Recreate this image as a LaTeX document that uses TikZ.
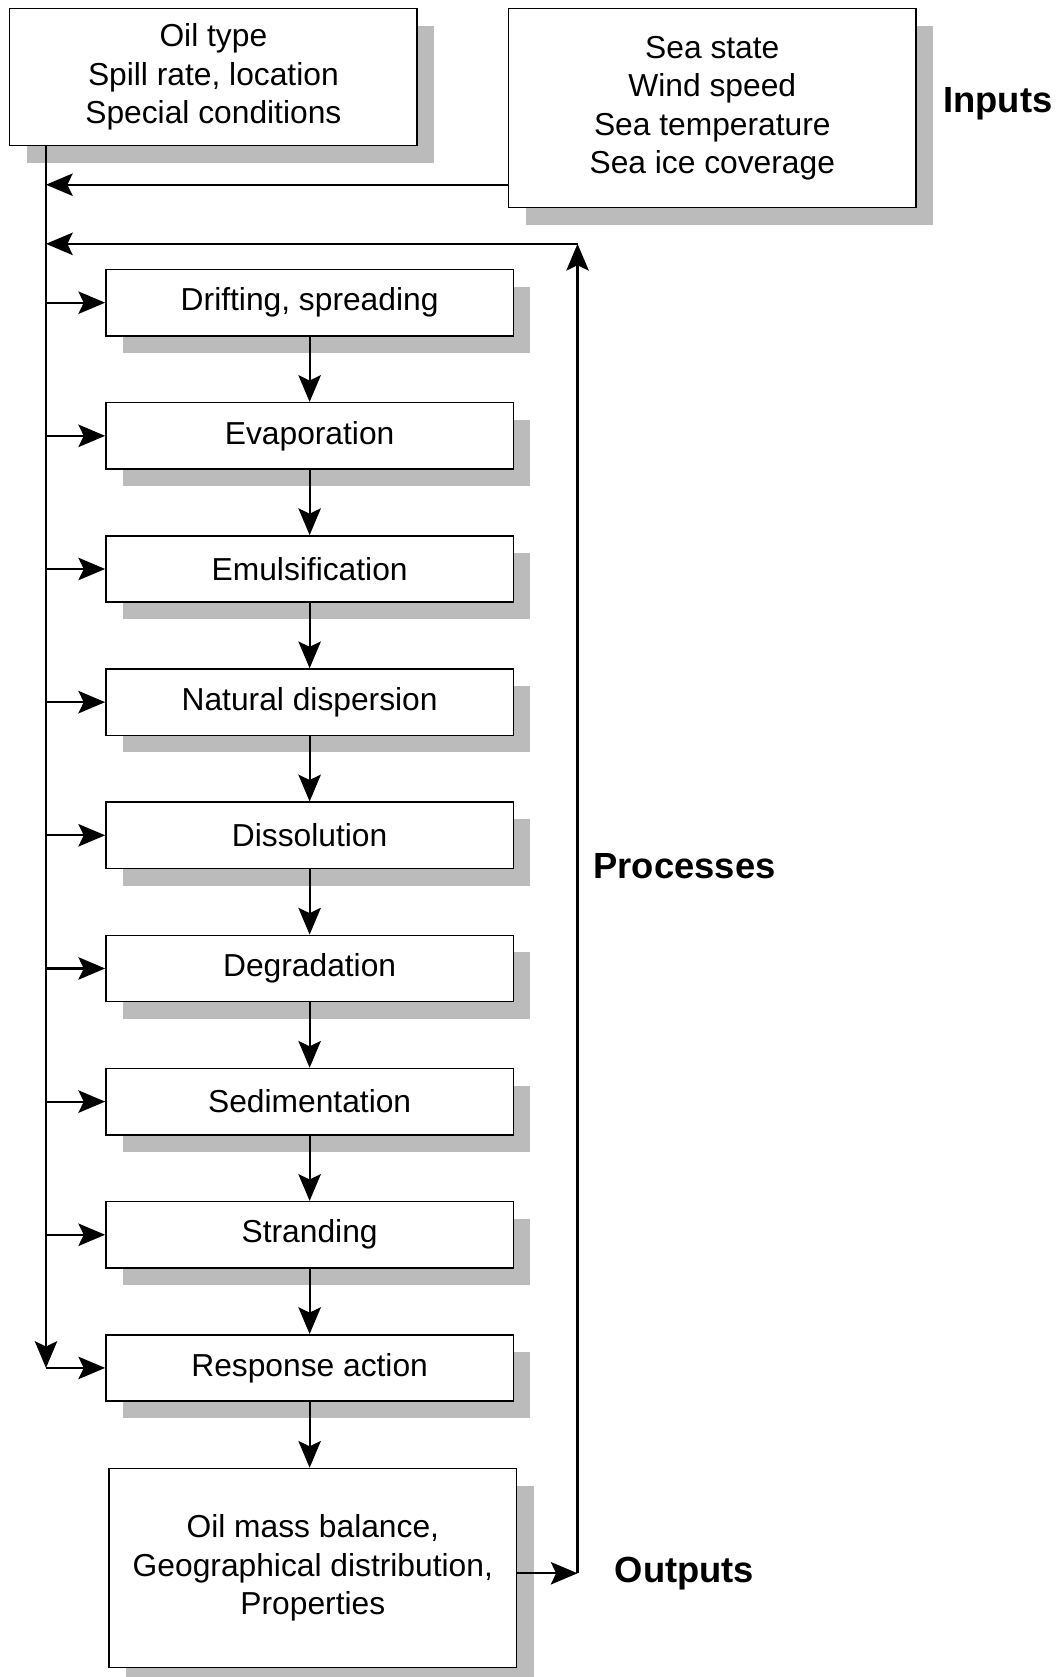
\documentclass[tikz,border=0pt]{standalone}
\usepackage{fontspec}
\setmainfont{Liberation Sans}
\usetikzlibrary{arrows.meta,shadows}
\definecolor{shadowgray}{RGB}{187,187,187}

\begin{document}
\begin{tikzpicture}[x=1pt,y=-1pt,
  box/.style={draw,line width=1.4pt,fill=white,align=center,inner sep=0pt,
    font=\fontsize{29.7}{36}\selectfont,
    drop shadow={shadow xshift=16pt,shadow yshift=-16pt,fill=shadowgray,opacity=1}},
  proc/.style={box,minimum width=381pt,minimum height=62pt},
  big/.style={box,minimum width=381pt,minimum height=186pt},
  lbl/.style={font=\fontsize{34}{40}\selectfont\bfseries},
  arr/.style={line width=2pt,-{Stealth[length=25pt,width=21pt,inset=5pt]}}]

\useasboundingbox (0,0) rectangle (994,1568);

\node[box,minimum width=381pt,minimum height=128pt] (src) at (199.5,72) {Oil type\\Spill rate, location\\Special conditions};
\node[big] (env) at (666,101) {Sea state\\Wind speed\\Sea temperature\\Sea ice coverage};
\node[lbl] (inp) at (933,97) {Inputs};

\foreach \txt [count=\i] in {{Drifting, spreading},Evaporation,Emulsification,{Natural dispersion},Dissolution,Degradation,Sedimentation,Stranding,{Response action}}
  \node[proc] (p\i) at (289.5,{283+124.5*(\i-1)}) {\txt};

\node[big] (res) at (292.5,1466) {Oil mass balance,\\Geographical distribution,\\Properties};

\node[lbl] (lblproc) at (640,810) {Processes};
\node[lbl] (lblout) at (640,1471) {Outputs};

\foreach \i [count=\j from 2] in {1,...,8}
  \draw[arr] (p\i.south) -- (p\j.north);
\draw[arr] (p9.south) -- (p9.south |- res.north);

\coordinate (trunk) at (43,1279);
\draw[arr] (src.south -| trunk) -- (trunk);
\foreach \i in {1,...,9}
  \draw[arr] (trunk |- p\i.west) -- (p\i.west);

\coordinate (envout) at ([yshift=22pt]env.south west);
\draw[arr] (envout) -- (envout -| trunk);

\coordinate (fbbot) at (540,1471);
\coordinate (fbtop) at (540,228);
\draw[arr] (fbbot -| res.east) -- (fbbot);
\draw[arr] (fbbot) -- (fbtop);
\draw[arr] (fbtop) -- (fbtop -| trunk);

\end{tikzpicture}
\end{document}
